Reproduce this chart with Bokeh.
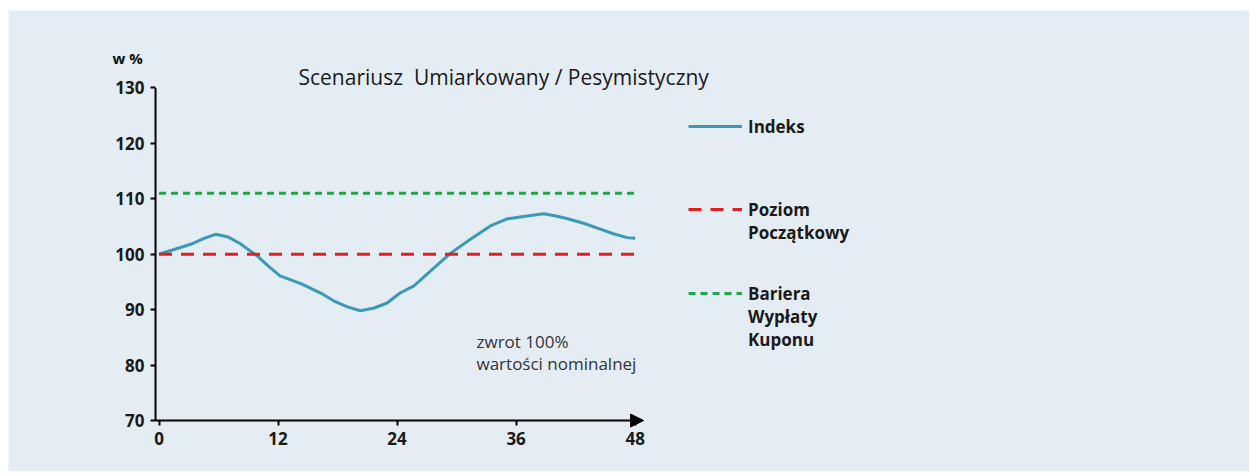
from bokeh.plotting import figure
from bokeh.models import (Range1d, FixedTicker, Label, Arrow, NormalHead, Legend, LegendItem)
from bokeh.embed import file_html
from bokeh.resources import INLINE

# ---- data ----
months = [0, 1.6, 3.2, 4.6, 5.7, 7.0, 8.2, 9.9, 11.0, 12.2, 14.3, 16.3, 17.6, 19.0, 20.3, 21.7,
          23.0, 24.3, 25.7, 27.5, 29.4, 31.4, 33.4, 35.1, 37.1, 38.8, 40.0, 41.2, 42.8, 44.2,
          45.8, 47.2, 48.0]
indeks = [100, 100.9, 101.8, 102.9, 103.6, 103.1, 101.9, 99.7, 97.9, 96.1, 94.7, 93.0, 91.6,
          90.5, 89.8, 90.3, 91.2, 93.0, 94.3, 97.2, 100.2, 102.7, 105.1, 106.4, 106.9, 107.3,
          106.9, 106.4, 105.6, 104.7, 103.7, 103.0, 102.9]
level_x = [0, 48]
poziom_poczatkowy = [100, 100]
bariera = [111, 111]
x_ticks = [0, 12, 24, 36, 48]
y_ticks = [70, 80, 90, 100, 110, 120, 130]
legend_labels = [["Indeks"], ["Poziom", "Początkowy"], ["Bariera", "Wypłaty", "Kuponu"]]

BG = "#e4edf3"
FONT = "Open Sans"
W, H = 1249, 471
XS = 9.92      # px per month
YS = 5.5417    # px per %
X0 = 158.5     # px of month 0
YB = 420       # px of 70 %
PL, PT = 8, 10  # white margin of the panel

p = figure(width=W, height=H, output_backend="svg", toolbar_location=None,
           x_range=Range1d((PL - X0) / XS, (W - X0) / XS),
           y_range=Range1d(70 - (H - YB) / YS, 70 + (YB - PT) / YS),
           min_border_left=PL, min_border_right=0, min_border_top=PT, min_border_bottom=0)
p.background_fill_color = BG
p.border_fill_color = "white"
p.outline_line_color = None
p.grid.visible = False

AX = -0.35  # axis position in months
p.yaxis.fixed_location = AX
p.xaxis.fixed_location = y_ticks[0]
for ax in (p.xaxis[0], p.yaxis[0]):
    ax.axis_line_color = None
    ax.major_tick_in = 0
    ax.major_tick_out = 5
    ax.minor_tick_out = 0
    ax.minor_tick_in = 0
    ax.major_tick_line_color = "black"
    ax.major_tick_line_width = 2
    ax.major_label_text_font = FONT
    ax.major_label_text_font_size = "17px"
    ax.major_label_text_font_style = "bold"
    ax.major_label_text_color = "#1a1a1a"
    ax.major_label_standoff = 6
p.xaxis.ticker = FixedTicker(ticks=x_ticks)
p.yaxis.ticker = FixedTicker(ticks=y_ticks)

# axis lines
p.add_layout(Arrow(x_start=AX, y_start=y_ticks[0], x_end=AX, y_end=y_ticks[-1],
                   line_width=2, line_color="black", start=None, end=None))
p.add_layout(Arrow(x_start=AX, y_start=y_ticks[0], x_end=x_ticks[-1] + 0.85, y_end=y_ticks[0],
                   line_width=2, line_color="black",
                   end=NormalHead(size=13, fill_color="black", line_color="black")))

r_idx = p.line(months, indeks, line_color="#3a9ab6", line_width=3)
r_red = p.line(level_x, poziom_poczatkowy, line_color="#e01f1f", line_width=3, line_dash="13 9")
r_grn = p.line(level_x, bariera, line_color="#1fa84f", line_width=3, line_dash="7 5")

# one legend per entry; glyph aligned with first text line
P = 23.0
first_line_px = [126, 209, 293]
for lines, r, cy in zip(legend_labels, [r_idx, r_red, r_grn], first_line_px):
    k = len(lines)
    label = "\n".join([" "] * (k - 1) + lines)
    n = 2 * k - 1
    bottom_px = cy + n * P / 2
    lg = Legend(items=[LegendItem(label=label, renderers=[r])], location=(688 - PL, H - bottom_px))
    lg.background_fill_alpha = 0
    lg.border_line_color = None
    lg.padding = 0
    lg.margin = 0
    lg.glyph_width = 54
    lg.glyph_height = 20
    lg.label_standoff = 6
    lg.label_text_font = FONT
    lg.label_text_font_size = "17px"
    lg.label_text_font_style = "bold"
    lg.label_text_color = "#1a1a1a"
    lg.label_text_line_height = P / 17
    p.add_layout(lg)

p.add_layout(Label(x=(298 - X0) / XS, y=70 + (YB - 76) / YS,
                   text="Scenariusz \u00a0Umiarkowany / Pesymistyczny",
                   text_font=FONT, text_font_size="21px", text_color="#1a1a1a",
                   text_baseline="middle", text_align="left"))
p.add_layout(Label(x=(112 - X0) / XS, y=70 + (YB - 57) / YS, text="w %", text_font=FONT,
                   text_font_size="15px", text_font_style="bold", text_color="#111111",
                   text_baseline="middle", text_align="left"))
p.add_layout(Label(x=(476 - X0) / XS, y=70 + (YB - 329.5) / YS,
                   text="zwrot 100%\nwartości nominalnej", text_font=FONT,
                   text_font_size="17px", text_color="#333333", text_baseline="top",
                   text_align="left", text_line_height=0.97))

open("out.html", "w").write(file_html(p, INLINE))
